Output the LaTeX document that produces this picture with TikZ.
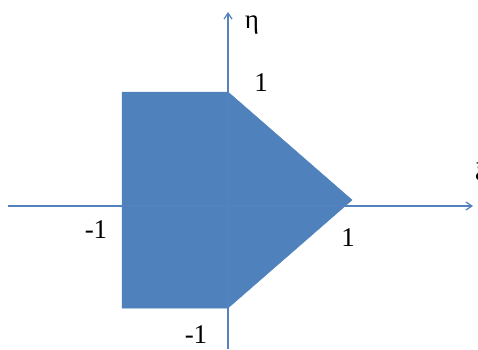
\documentclass[tikz,border=0pt]{standalone}
\usepackage{fontspec}
\setmainfont{Liberation Serif}
\usepackage{tikz}
\usetikzlibrary{arrows.meta}
\definecolor{cshape}{RGB}{79,129,189}
\definecolor{caxis}{RGB}{84,130,190}

\begin{document}
\begin{tikzpicture}[
  x=1pt, y=1pt,
  axis/.style={draw=caxis,line width=1.2pt,-{Straight Barb[length=6pt,width=8pt]}},
  region/.style={fill=cshape,draw=cshape,line width=0.5pt},
  lbl/.style={inner sep=0pt,font=\fontsize{27}{30}\selectfont}
]
\useasboundingbox (0,0) rectangle (478,349);

% shaded region
\coordinate (p1) at (122,257);
\coordinate (p2) at (228,257);
\coordinate (p3) at (352,149);
\coordinate (p4) at (228,41);
\coordinate (p5) at (122,41);
\filldraw[region] (p1) -- (p2) -- (p3) -- (p4) -- (p5) -- cycle;

% axes
\coordinate (xs) at (8,143);
\coordinate (xe) at (473,143);
\coordinate (ys) at (228,0);
\coordinate (ye) at (228,337);
\draw[axis] (xs) -- (xe);
\draw[axis] (ys) -- (ye);

% labels
\node[lbl] (eta) at (252,324) {η};
\node[lbl] (xi) at (481,175) {ξ};
\node[lbl] (ytop) at (261,266) {1};
\node[lbl] (xright) at (348,111) {1};
\node[lbl] (xleft) at (96,119) {-1};
\node[lbl] (ybot) at (196,14) {-1};
\end{tikzpicture}
\end{document}
